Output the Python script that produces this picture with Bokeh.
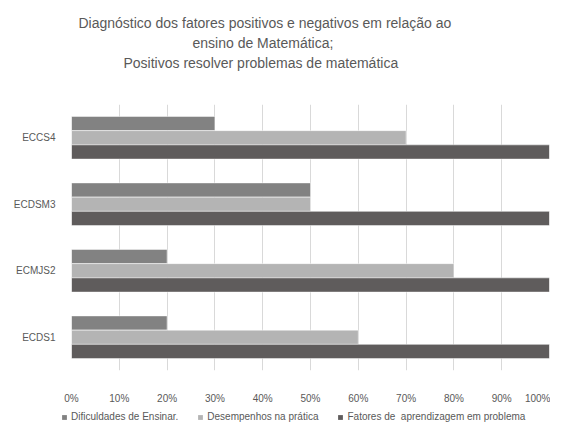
from bokeh.plotting import figure
from bokeh.models import (ColumnDataSource, FactorRange, Range1d, FixedTicker,
                          NumeralTickFormatter, Legend, LegendItem, Title)
from bokeh.layouts import column
from bokeh.transform import dodge
from bokeh.embed import file_html
from bokeh.resources import INLINE

categories = ["ECDS1", "ECMJS2", "ECDSM3", "ECCS4"]
dificuldades = [0.20, 0.20, 0.50, 0.30]
desempenhos = [0.60, 0.80, 0.50, 0.70]
fatores = [1.00, 1.00, 1.00, 1.00]
series_names = ["Dificuldades de Ensinar.", "Desempenhos na prática",
                "Fatores de  aprendizagem em problema"]
colors = ["#828282", "#b4b4b4", "#5f5c5c"]
x_ticks = [i / 10 for i in range(11)]
title_lines = ["Diagnóstico dos fatores positivos e negativos em relação ao",
               "ensino de Matemática;",
               "Positivos resolver problemas de matemática"]

src = ColumnDataSource(dict(cat=categories, d=dificuldades, s=desempenhos, f=fatores))

p = figure(width=550, height=406, output_backend="svg", toolbar_location=None,
           y_range=FactorRange(factors=categories), x_range=Range1d(0, 1),
           min_border_left=71, min_border_right=1, min_border_top=104,
           min_border_bottom=28, margin=0)
p.outline_line_color = None
p.background_fill_color = "white"
p.border_fill_color = "white"

bw = 0.214
cols = ["d", "s", "f"]
offs = [bw, 0, -bw]
for c, o, col in zip(cols, offs, colors):
    p.hbar(y=dodge("cat", o, range=p.y_range), right=c, left=0, height=bw,
           source=src, fill_color=col, line_color="white", line_width=0.5)

p.xaxis.ticker = FixedTicker(ticks=x_ticks)
p.xaxis.formatter = NumeralTickFormatter(format="0%")
for ax in (p.xaxis, p.yaxis):
    ax.axis_line_color = None
    ax.major_tick_line_color = None
    ax.minor_tick_line_color = None
    ax.major_label_text_color = "#595959"
    ax.major_label_text_font = "Liberation Sans"
    ax.major_label_text_font_size = "10px"
p.xaxis.major_label_standoff = 16
p.yaxis.major_label_standoff = 10
p.xgrid.grid_line_color = "#d9d9d9"
p.ygrid.grid_line_color = None

# spacer between the title block and the plot area
p.add_layout(Title(text=" ", text_font_size="10px", standoff=20), "above")
# title lines, stacked (last added is topmost); left offsets centre each line
offsets = [7, 121, 52]
for t, off in reversed(list(zip(title_lines, offsets))):
    p.add_layout(Title(text=t, align="left", offset=off, text_font="Liberation Sans",
                       text_font_size="14px", text_font_style="normal",
                       text_color="#595959", standoff=2), "above")

# legend row drawn in its own strip under the chart
q = figure(width=550, height=20, output_backend="svg", toolbar_location=None,
           x_axis_location=None, y_axis_location=None, min_border=0, margin=0,
           x_range=Range1d(0, 1), y_range=Range1d(0, 1))
q.outline_line_color = None
q.xgrid.grid_line_color = None
q.ygrid.grid_line_color = None
try:
    q.frame_align = False
    leg_x = 61
except Exception:
    leg_x = 0
hidden = ColumnDataSource(dict(y=[50], right=[0]))
leg_r = [q.hbar(y="y", right="right", left=0, height=0.01, source=hidden,
                fill_color=col, line_color=None) for col in colors]
legend = Legend(items=[LegendItem(label=n, renderers=[r]) for n, r in zip(series_names, leg_r)],
                orientation="horizontal", location=(leg_x, 4),
                label_text_font="Liberation Sans", label_text_font_size="10px",
                label_text_color="#595959", glyph_width=6, glyph_height=6,
                label_standoff=4, spacing=19, background_fill_alpha=0,
                border_line_color=None, padding=0, margin=0)
q.add_layout(legend, "center")

layout = column(p, q, spacing=0, margin=0)
open("out.html", "w").write(file_html(layout, INLINE))
